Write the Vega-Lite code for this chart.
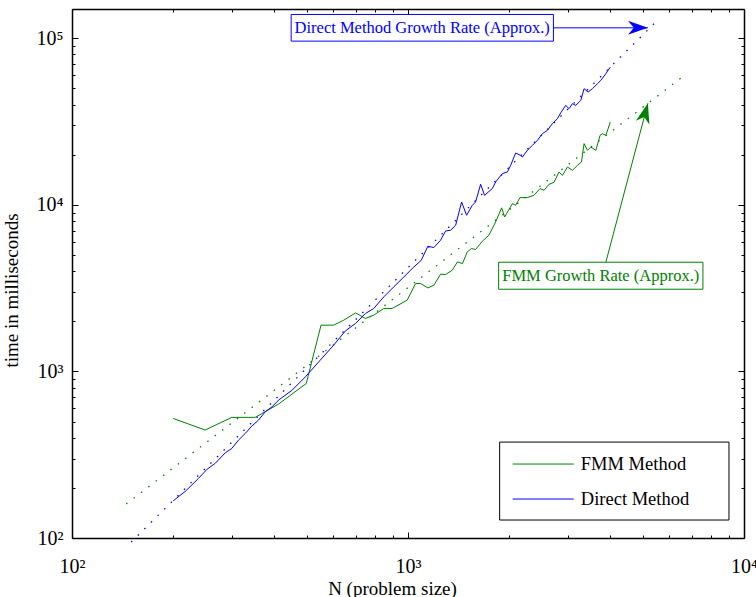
{
  "$schema": "https://vega.github.io/schema/vega-lite/v6.json",
  "width": 672,
  "height": 529,
  "autosize": "none",
  "padding": {"left": 72, "top": 9, "right": 12, "bottom": 59},
  "background": "white",
  "config": {"view": {"stroke": null}},
  "datasets": {
    "curves": [
      {"N":200,"t":522,"series":"FMM"},{"N":249,"t":445,"series":"FMM"},{"N":299,"t":530,"series":"FMM"},{"N":351,"t":530,"series":"FMM"},{"N":412,"t":637,"series":"FMM"},{"N":498,"t":847,"series":"FMM"},{"N":551,"t":1896,"series":"FMM"},{"N":601,"t":1896,"series":"FMM"},{"N":644,"t":2032,"series":"FMM"},{"N":698,"t":2246,"series":"FMM"},{"N":747,"t":2080,"series":"FMM"},{"N":791,"t":2177,"series":"FMM"},{"N":847,"t":2388,"series":"FMM"},{"N":897,"t":2388,"series":"FMM"},{"N":994,"t":2677,"series":"FMM"},{"N":1054,"t":3373,"series":"FMM"},{"N":1090,"t":3373,"series":"FMM"},{"N":1146,"t":3174,"series":"FMM"},{"N":1194,"t":3294,"series":"FMM"},{"N":1250,"t":3836,"series":"FMM"},{"N":1294,"t":3820,"series":"FMM"},{"N":1354,"t":4053,"series":"FMM"},{"N":1403,"t":4545,"series":"FMM"},{"N":1453,"t":4446,"series":"FMM"},{"N":1501,"t":5219,"series":"FMM"},{"N":1545,"t":5470,"series":"FMM"},{"N":1589,"t":5395,"series":"FMM"},{"N":1664,"t":6048,"series":"FMM"},{"N":1741,"t":6571,"series":"FMM"},{"N":1823,"t":7900,"series":"FMM"},{"N":1900,"t":9600,"series":"FMM"},{"N":1939,"t":8462,"series":"FMM"},{"N":2045,"t":10180,"series":"FMM"},{"N":2091,"t":9945,"series":"FMM"},{"N":2154,"t":11060,"series":"FMM"},{"N":2266,"t":11060,"series":"FMM"},{"N":2371,"t":11420,"series":"FMM"},{"N":2471,"t":12525,"series":"FMM"},{"N":2540,"t":12235,"series":"FMM"},{"N":2629,"t":13295,"series":"FMM"},{"N":2720,"t":13660,"series":"FMM"},{"N":2814,"t":15750,"series":"FMM"},{"N":2882,"t":15050,"series":"FMM"},{"N":2982,"t":16880,"series":"FMM"},{"N":3086,"t":16130,"series":"FMM"},{"N":3194,"t":17280,"series":"FMM"},{"N":3283,"t":18090,"series":"FMM"},{"N":3342,"t":23320,"series":"FMM"},{"N":3421,"t":21260,"series":"FMM"},{"N":3499,"t":22250,"series":"FMM"},{"N":3622,"t":21260,"series":"FMM"},{"N":3730,"t":26150,"series":"FMM"},{"N":3786,"t":26770,"series":"FMM"},{"N":3880,"t":26150,"series":"FMM"},{"N":4000,"t":31430,"series":"FMM"},
      {"N":200,"t":167,"series":"Direct"},{"N":217,"t":190,"series":"Direct"},{"N":238,"t":228,"series":"Direct"},{"N":252,"t":258,"series":"Direct"},{"N":267,"t":281,"series":"Direct"},{"N":286,"t":325,"series":"Direct"},{"N":299,"t":345,"series":"Direct"},{"N":313,"t":387,"series":"Direct"},{"N":328,"t":425,"series":"Direct"},{"N":343,"t":470,"series":"Direct"},{"N":359,"t":510,"series":"Direct"},{"N":376,"t":573,"series":"Direct"},{"N":394,"t":613,"series":"Direct"},{"N":412,"t":673,"series":"Direct"},{"N":452,"t":772,"series":"Direct"},{"N":495,"t":928,"series":"Direct"},{"N":548,"t":1169,"series":"Direct"},{"N":601,"t":1438,"series":"Direct"},{"N":651,"t":1752,"series":"Direct"},{"N":698,"t":1941,"series":"Direct"},{"N":747,"t":2228,"series":"Direct"},{"N":791,"t":2388,"series":"Direct"},{"N":847,"t":2803,"series":"Direct"},{"N":907,"t":3218,"series":"Direct"},{"N":972,"t":3694,"series":"Direct"},{"N":1041,"t":4241,"series":"Direct"},{"N":1095,"t":4650,"series":"Direct"},{"N":1146,"t":5644,"series":"Direct"},{"N":1194,"t":5543,"series":"Direct"},{"N":1250,"t":6133,"series":"Direct"},{"N":1294,"t":6973,"series":"Direct"},{"N":1339,"t":7040,"series":"Direct"},{"N":1386,"t":7545,"series":"Direct"},{"N":1444,"t":10409,"series":"Direct"},{"N":1494,"t":8662,"series":"Direct"},{"N":1554,"t":9945,"series":"Direct"},{"N":1589,"t":10409,"series":"Direct"},{"N":1645,"t":13295,"series":"Direct"},{"N":1690,"t":11420,"series":"Direct"},{"N":1782,"t":12525,"series":"Direct"},{"N":1823,"t":13720,"series":"Direct"},{"N":1909,"t":15410,"series":"Direct"},{"N":1976,"t":15750,"series":"Direct"},{"N":2021,"t":17280,"series":"Direct"},{"N":2091,"t":20490,"series":"Direct"},{"N":2164,"t":19840,"series":"Direct"},{"N":2190,"t":19380,"series":"Direct"},{"N":2266,"t":21260,"series":"Direct"},{"N":2346,"t":22780,"series":"Direct"},{"N":2427,"t":24410,"series":"Direct"},{"N":2512,"t":26770,"series":"Direct"},{"N":2599,"t":28020,"series":"Direct"},{"N":2690,"t":30730,"series":"Direct"},{"N":2784,"t":32940,"series":"Direct"},{"N":2848,"t":35700,"series":"Direct"},{"N":2947,"t":39590,"series":"Direct"},{"N":3015,"t":37820,"series":"Direct"},{"N":3086,"t":40530,"series":"Direct"},{"N":3157,"t":39590,"series":"Direct"},{"N":3268,"t":42420,"series":"Direct"},{"N":3342,"t":49850,"series":"Direct"},{"N":3435,"t":47570,"series":"Direct"},{"N":3540,"t":49850,"series":"Direct"},{"N":3664,"t":53420,"series":"Direct"},{"N":3748,"t":55910,"series":"Direct"},{"N":3880,"t":61340,"series":"Direct"},{"N":4000,"t":67210,"series":"Direct"}
    ],
    "growth": [
      {"N":145,"t":160,"series":"FMM"},{"N":6700,"t":60700,"series":"FMM"},
      {"N":150,"t":94.5,"series":"Direct"},{"N":5600,"t":131700,"series":"Direct"}
    ],
    "boxes": [
      {"x1":449,"x2":2709,"y1":96200,"y2":139100,"series":"Direct"},
      {"x1":1861,"x2":7547,"y1":3116,"y2":4526,"series":"FMM"}
    ],
    "notes": [
      {"N":1102,"t":115600,"label":"Direct Method Growth Rate (Approx.)","series":"Direct"},
      {"N":3748,"t":3755,"label":"FMM Growth Rate (Approx.)","series":"FMM"}
    ],
    "arrows": [
      {"N":2709,"t":115600,"series":"Direct"},{"N":5176,"t":115600,"series":"Direct"},
      {"N":3880,"t":4526,"series":"FMM"},{"N":5176,"t":40690,"series":"FMM"}
    ],
    "heads": [
      {"N":5176,"t":115600,"series":"Direct"},
      {"N":5176,"t":40690,"series":"FMM"}
    ],
    "legendbox": [{"x1":1874,"x2":9022,"y1":128.2,"y2":376.6}],
    "legendlines": [
      {"N":2049,"t":278,"series":"FMM"},{"N":3113,"t":278,"series":"FMM"},
      {"N":2049,"t":171.4,"series":"Direct"},{"N":3113,"t":171.4,"series":"Direct"}
    ],
    "legendtext": [
      {"N":3268,"t":278,"label":"FMM Method"},
      {"N":3268,"t":171.4,"label":"Direct Method"}
    ]
  },
  "resolve": {"axis": {"x": "independent", "y": "independent"}},
  "layer": [
    {
      "data": {"name": "growth"},
      "mark": {"type": "line", "strokeWidth": 1.3, "strokeDash": [1.5, 7.8], "strokeCap": "butt"},
      "encoding": {
        "x": {"field": "N", "type": "quantitative",
          "scale": {"type": "log", "domain": [100, 10000], "nice": false},
          "axis": {"orient": "top", "labels": false, "title": null, "grid": false,
            "values": [100,200,300,400,500,600,700,800,900,1000,2000,3000,4000,5000,6000,7000,8000,9000,10000],
            "tickSize": {"condition": {"test": "indexof([100,1000,10000], datum.value) >= 0", "value": -6}, "value": -3},
            "tickColor": "black", "domainColor": "black", "domainWidth": 1.5}},
        "y": {"field": "t", "type": "quantitative",
          "scale": {"type": "log", "domain": [100, 150000], "nice": false},
          "axis": {"orient": "right", "labels": false, "title": null, "grid": false,
            "values": [100,200,300,400,500,600,700,800,900,1000,2000,3000,4000,5000,6000,7000,8000,9000,10000,20000,30000,40000,50000,60000,70000,80000,90000,100000],
            "tickSize": {"condition": {"test": "indexof([100,1000,10000,100000], datum.value) >= 0", "value": -6}, "value": -3},
            "tickColor": "black", "domainColor": "black", "domainWidth": 1.5}},
        "color": {"field": "series", "type": "nominal", "scale": {"domain": ["FMM", "Direct"], "range": ["#008000", "#0000ff"]}, "legend": null},
        "detail": {"field": "series"}
      }
    },
    {
      "data": {"name": "curves"},
      "mark": {"type": "line", "strokeWidth": 1},
      "encoding": {
        "x": {"field": "N", "type": "quantitative",
          "axis": {"orient": "bottom", "grid": false,
            "values": [100,200,300,400,500,600,700,800,900,1000,2000,3000,4000,5000,6000,7000,8000,9000,10000],
            "labelExpr": "datum.value == 100 ? '10²' : datum.value == 1000 ? '10³' : datum.value == 10000 ? '10⁴' : ''",
            "tickSize": {"condition": {"test": "indexof([100,1000,10000], datum.value) >= 0", "value": -6}, "value": -3},
            "labelPadding": 24, "labelFont": "Liberation Serif", "labelFontSize": 20, "labelColor": "black",
            "labelOverlap": false, "labelFlush": false, "labelBound": false,
            "tickColor": "black", "domainColor": "black", "domainWidth": 1.5,
            "title": "N (problem size)", "titleFont": "Liberation Serif", "titleFontSize": 19, "titleFontWeight": "normal", "titleColor": "black", "titleBaseline": "middle", "titleX": 320, "titleY": 50}},
        "y": {"field": "t", "type": "quantitative",
          "axis": {"orient": "left", "grid": false,
            "values": [100,200,300,400,500,600,700,800,900,1000,2000,3000,4000,5000,6000,7000,8000,9000,10000,20000,30000,40000,50000,60000,70000,80000,90000,100000],
            "labelExpr": "datum.value == 100 ? '10²' : datum.value == 1000 ? '10³' : datum.value == 10000 ? '10⁴' : datum.value == 100000 ? '10⁵' : ''",
            "tickSize": {"condition": {"test": "indexof([100,1000,10000,100000], datum.value) >= 0", "value": -6}, "value": -3},
            "labelPadding": 15, "labelFont": "Liberation Serif", "labelFontSize": 20, "labelColor": "black",
            "labelOverlap": false, "labelFlush": false, "labelBound": false,
            "tickColor": "black", "domainColor": "black", "domainWidth": 1.5,
            "title": "time in milliseconds", "titleFont": "Liberation Serif", "titleFontSize": 19, "titleFontWeight": "normal", "titleColor": "black", "titlePadding": 15, "titleY": 281}},
        "color": {"field": "series", "type": "nominal", "legend": null},
        "detail": {"field": "series"}
      }
    },
    {
      "data": {"name": "arrows"},
      "mark": {"type": "line", "strokeWidth": 1},
      "encoding": {
        "x": {"field": "N", "type": "quantitative", "axis": null},
        "y": {"field": "t", "type": "quantitative", "axis": null},
        "color": {"field": "series", "type": "nominal", "legend": null},
        "detail": {"field": "series"}
      }
    },
    {
      "data": {"name": "boxes"},
      "mark": {"type": "rect", "fill": "white", "strokeWidth": 1},
      "encoding": {
        "x": {"field": "x1", "type": "quantitative", "axis": null},
        "x2": {"field": "x2"},
        "y": {"field": "y1", "type": "quantitative", "axis": null},
        "y2": {"field": "y2"},
        "stroke": {"field": "series", "type": "nominal", "scale": {"domain": ["FMM", "Direct"], "range": ["#008000", "#0000ff"]}, "legend": null}
      }
    },
    {
      "data": {"name": "notes"},
      "mark": {"type": "text", "font": "Liberation Serif", "fontSize": 16.5, "align": "center", "baseline": "middle"},
      "encoding": {
        "x": {"field": "N", "type": "quantitative", "axis": null},
        "y": {"field": "t", "type": "quantitative", "axis": null},
        "text": {"field": "label"},
        "color": {"field": "series", "type": "nominal", "legend": null}
      }
    },
    {
      "data": {"name": "heads"},
      "transform": [{"filter": "datum.series == 'Direct'"}],
      "mark": {"type": "point", "shape": "M0,0L-2,-0.7L-1.4,0L-2,0.7Z", "size": 400, "filled": true, "opacity": 1, "angle": 0},
      "encoding": {
        "x": {"field": "N", "type": "quantitative", "axis": null},
        "y": {"field": "t", "type": "quantitative", "axis": null},
        "color": {"field": "series", "type": "nominal", "legend": null}
      }
    },
    {
      "data": {"name": "heads"},
      "transform": [{"filter": "datum.series == 'FMM'"}],
      "mark": {"type": "point", "shape": "M0,0L-2,-0.7L-1.4,0L-2,0.7Z", "size": 400, "filled": true, "opacity": 1, "angle": -74.7},
      "encoding": {
        "x": {"field": "N", "type": "quantitative", "axis": null},
        "y": {"field": "t", "type": "quantitative", "axis": null},
        "color": {"field": "series", "type": "nominal", "legend": null}
      }
    },
    {
      "data": {"name": "legendbox"},
      "mark": {"type": "rect", "fill": "white", "stroke": "black", "strokeWidth": 1},
      "encoding": {
        "x": {"field": "x1", "type": "quantitative", "axis": null},
        "x2": {"field": "x2"},
        "y": {"field": "y1", "type": "quantitative", "axis": null},
        "y2": {"field": "y2"}
      }
    },
    {
      "data": {"name": "legendlines"},
      "mark": {"type": "line", "strokeWidth": 1},
      "encoding": {
        "x": {"field": "N", "type": "quantitative", "axis": null},
        "y": {"field": "t", "type": "quantitative", "axis": null},
        "color": {"field": "series", "type": "nominal", "legend": null},
        "detail": {"field": "series"}
      }
    },
    {
      "data": {"name": "legendtext"},
      "mark": {"type": "text", "font": "Liberation Serif", "fontSize": 18.5, "align": "left", "baseline": "middle", "color": "black"},
      "encoding": {
        "x": {"field": "N", "type": "quantitative", "axis": null},
        "y": {"field": "t", "type": "quantitative", "axis": null},
        "text": {"field": "label"}
      }
    }
  ]
}
